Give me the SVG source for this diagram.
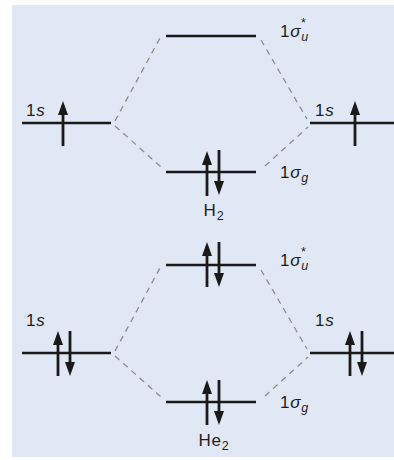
<svg xmlns="http://www.w3.org/2000/svg" width="394" height="460" viewBox="0 0 394 460">
<defs>
<style>
.lvl{stroke:#1a1a1a;stroke-width:2.5;fill:none}
.ar{stroke:#1a1a1a;stroke-width:2.8;fill:none}
.hd{fill:#1a1a1a}
.dash{stroke:#8c8c8c;stroke-width:1.3;stroke-dasharray:6,5;fill:none}
.t{font-family:"Liberation Sans",Arial,sans-serif;font-size:17px;fill:#1e1e1e;letter-spacing:0.8px}
.sub{font-size:12.5px}
</style>
<g id="up"><line class="ar" x1="0" y1="0" x2="0" y2="-32"/><path class="hd" d="M-5,-31 L0,-45 L5,-31 Z"/></g>
<g id="dn"><line class="ar" x1="0" y1="0" x2="0" y2="32"/><path class="hd" d="M-5,31 L0,45 L5,31 Z"/></g>
</defs>
<rect x="0" y="0" width="394" height="460" fill="#ffffff"/>
<rect x="12" y="5" width="382" height="452" fill="#e1e8f5"/>
<g id="connectors">
<line class="dash" x1="115" y1="121" x2="160" y2="38"/>
<line class="dash" x1="115" y1="126" x2="161" y2="167"/>
<line class="dash" x1="261" y1="40" x2="307" y2="119"/>
<line class="dash" x1="265" y1="166" x2="308" y2="127"/>
<line class="dash" x1="115" y1="351" x2="160" y2="268"/>
<line class="dash" x1="115" y1="356" x2="161" y2="397"/>
<line class="dash" x1="261" y1="270" x2="307" y2="349"/>
<line class="dash" x1="265" y1="396" x2="308" y2="357"/>
</g>
<g id="h2-left-1s">
<line class="lvl" x1="22" y1="123" x2="111" y2="123"/>
<use href="#up" transform="translate(63,146)"/>
<text class="t" x="26" y="116">1<tspan font-style="italic">s</tspan></text>
</g>
<g id="h2-right-1s">
<line class="lvl" x1="310" y1="123" x2="394" y2="123"/>
<use href="#up" transform="translate(355,146)"/>
<text class="t" x="315" y="116">1<tspan font-style="italic">s</tspan></text>
</g>
<g id="h2-sigma-u">
<line class="lvl" x1="166" y1="36" x2="256" y2="36"/>
<text class="t" x="280" y="37">1<tspan font-style="italic">σ</tspan><tspan class="sub" font-style="italic" dy="4">u</tspan><tspan class="sub" dx="-8" dy="-14">*</tspan></text>
</g>
<g id="h2-sigma-g">
<line class="lvl" x1="166" y1="172" x2="256" y2="172"/>
<use href="#up" transform="translate(207,196)"/>
<use href="#dn" transform="translate(219,150)"/>
<text class="t" x="280" y="178">1<tspan font-style="italic">σ</tspan><tspan class="sub" font-style="italic" dy="4">g</tspan></text>
</g>
<text class="t" x="214" y="216" text-anchor="middle">H<tspan class="sub" dy="4">2</tspan></text>
<g id="he2-left-1s">
<line class="lvl" x1="22" y1="353" x2="111" y2="353"/>
<use href="#up" transform="translate(58,376)"/>
<use href="#dn" transform="translate(70,331)"/>
<text class="t" x="26" y="326">1<tspan font-style="italic">s</tspan></text>
</g>
<g id="he2-right-1s">
<line class="lvl" x1="310" y1="353" x2="394" y2="353"/>
<use href="#up" transform="translate(350,376)"/>
<use href="#dn" transform="translate(362,331)"/>
<text class="t" x="315" y="326">1<tspan font-style="italic">s</tspan></text>
</g>
<g id="he2-sigma-u">
<line class="lvl" x1="166" y1="265" x2="256" y2="265"/>
<use href="#up" transform="translate(207,287)"/>
<use href="#dn" transform="translate(219,242)"/>
<text class="t" x="280" y="266">1<tspan font-style="italic">σ</tspan><tspan class="sub" font-style="italic" dy="4">u</tspan><tspan class="sub" dx="-8" dy="-14">*</tspan></text>
</g>
<g id="he2-sigma-g">
<line class="lvl" x1="166" y1="402" x2="256" y2="402"/>
<use href="#up" transform="translate(207,425)"/>
<use href="#dn" transform="translate(219,380)"/>
<text class="t" x="280" y="408">1<tspan font-style="italic">σ</tspan><tspan class="sub" font-style="italic" dy="4">g</tspan></text>
</g>
<text class="t" x="214" y="446" text-anchor="middle">He<tspan class="sub" dy="4">2</tspan></text>
</svg>
